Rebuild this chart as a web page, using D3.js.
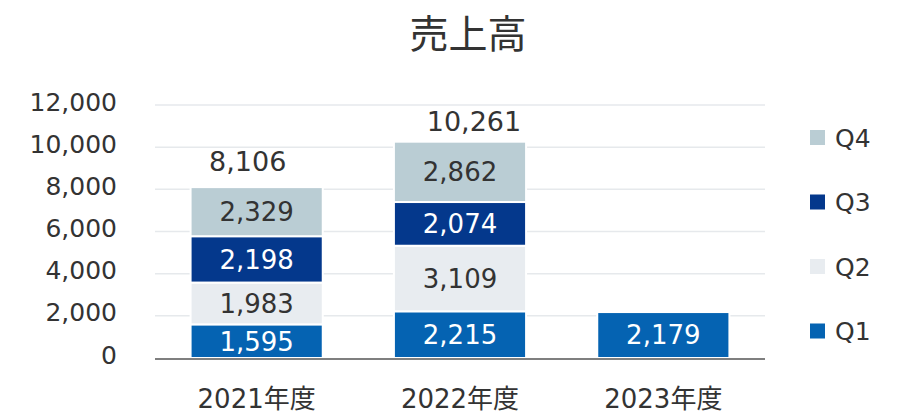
<!DOCTYPE html>
<html>
<head>
<meta charset="utf-8">
<script src="https://cdn.jsdelivr.net/npm/d3@7"></script>
<style>
  body { margin: 0; background: #fff; }
  text { font-family: "DejaVu Sans", "Noto Sans CJK JP", sans-serif; }
</style>
</head>
<body>
<div id="chart"></div>
<script>
// data
const years = ["2021年度", "2022年度", "2023年度"];
const quarters = ["Q1", "Q2", "Q3", "Q4"];
const q1 = [1595, 2215, 2179];
const q2 = [1983, 3109, null];
const q3 = [2198, 2074, null];
const q4 = [2329, 2862, null];
const totals = [8106, 10261, null];
const yTicks = [0, 2000, 4000, 6000, 8000, 10000, 12000];

const colors = { Q1: "#0563b2", Q2: "#e8ecf0", Q3: "#04388c", Q4: "#bacdd4" };
const labelColors = { Q1: "#fff", Q2: "#333", Q3: "#fff", Q4: "#333" };

const width = 897, height = 414;
const svg = d3.select("#chart").append("svg")
  .attr("width", width)
  .attr("height", height);

const x = d3.scaleBand().domain(years).range([155, 765])
  .paddingInner(0.35).paddingOuter(0.175);
const y = d3.scaleLinear().domain([0, 12000]).range([358, 105]);

// title
svg.append("text")
  .attr("x", 468).attr("y", 48)
  .attr("text-anchor", "middle")
  .style("font-size", "39px")
  .style("fill", "#333")
  .text("売上高");

// gridlines
svg.append("g").selectAll("line")
  .data(yTicks.filter(d => d > 0))
  .enter().append("line")
  .attr("x1", 155).attr("x2", 765)
  .attr("y1", d => y(d)).attr("y2", d => y(d))
  .style("stroke", "#e6e9ec")
  .style("stroke-width", 1.5);

// y axis
const yAxis = svg.append("g")
  .attr("transform", "translate(117,-3)")
  .call(d3.axisLeft(y).tickValues(yTicks).tickSize(0).tickFormat(d3.format(",")));
yAxis.select(".domain").remove();
yAxis.selectAll("text")
  .attr("x", 0)
  .style("font-size", "25px")
  .style("fill", "#333");

// stacked bars
const rows = years.map((yr, i) => ({ year: yr, Q1: q1[i], Q2: q2[i] || 0, Q3: q3[i] || 0, Q4: q4[i] || 0 }));
const series = d3.stack().keys(quarters)(rows);

const layers = svg.append("g").selectAll("g")
  .data(series)
  .enter().append("g");

layers.selectAll("rect")
  .data(s => s.map(d => ({ key: s.key, d: d })).filter(o => o.d[1] > o.d[0]))
  .enter().append("rect")
  .attr("x", o => x(o.d.data.year))
  .attr("width", x.bandwidth())
  .attr("y", o => y(o.d[1]))
  .attr("height", o => y(o.d[0]) - y(o.d[1]))
  .style("fill", o => colors[o.key])
  .style("stroke", "#fff")
  .style("stroke-width", 2);

layers.selectAll("text")
  .data(s => s.map(d => ({ key: s.key, d: d })).filter(o => o.d[1] > o.d[0]))
  .enter().append("text")
  .attr("x", o => x(o.d.data.year) + x.bandwidth() / 2)
  .attr("y", o => (y(o.d[0]) + y(o.d[1])) / 2)
  .attr("dy", "0.36em")
  .attr("text-anchor", "middle")
  .style("font-size", "26px")
  .style("fill", o => labelColors[o.key])
  .text(o => d3.format(",")(o.d[1] - o.d[0]));

// totals (labels were nudged by hand in the original)
const totalNudge = [[-9, -16], [14, -11]];
svg.append("g").selectAll("text")
  .data(years.map((yr, i) => ({ year: yr, v: totals[i], n: totalNudge[i] })).filter(o => o.v))
  .enter().append("text")
  .attr("x", o => x(o.year) + x.bandwidth() / 2 + o.n[0])
  .attr("y", o => y(o.v) + o.n[1])
  .attr("text-anchor", "middle")
  .style("font-size", "27px")
  .style("fill", "#333")
  .text(o => d3.format(",")(o.v));

// x axis
svg.append("line")
  .attr("x1", 155).attr("x2", 765)
  .attr("y1", y(0) + 1).attr("y2", y(0) + 1)
  .style("stroke", "#7f7f7f")
  .style("stroke-width", 2);

svg.append("g").selectAll("text")
  .data(years)
  .enter().append("text")
  .attr("x", d => x(d) + x.bandwidth() / 2)
  .attr("y", 408)
  .attr("text-anchor", "middle")
  .style("font-size", "26px")
  .style("fill", "#333")
  .text(d => d);

// legend
const legend = svg.append("g").selectAll("g")
  .data(quarters.slice().reverse())
  .enter().append("g")
  .attr("transform", (d, i) => "translate(810," + (130 + i * 64.5) + ")");
legend.append("rect")
  .attr("width", 15).attr("height", 15)
  .style("fill", d => colors[d]);
legend.append("text")
  .attr("x", 25).attr("y", 7.5)
  .attr("dy", "0.36em")
  .style("font-size", "25px")
  .style("fill", "#333")
  .text(d => d);
</script>
</body>
</html>
